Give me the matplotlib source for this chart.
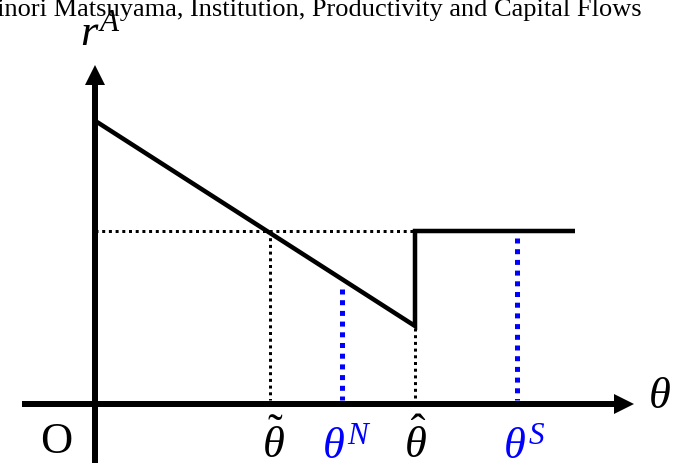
import matplotlib
matplotlib.use("Agg")
import matplotlib.pyplot as plt

plt.rcParams['font.family'] = 'Liberation Serif'
plt.rcParams['mathtext.fontset'] = 'custom'
plt.rcParams['mathtext.rm'] = 'Liberation Serif'
plt.rcParams['mathtext.it'] = 'Liberation Serif:italic'
plt.rcParams['lines.scale_dashes'] = False

# everything in picture pixels (x right, y down)
title = "Kiminori Matsuyama, Institution, Productivity and Capital Flows"

# r^A schedule: falling line, jump at theta-hat, then flat
curve_x = [97, 415, 415, 575]
curve_y = [122, 326, 231, 231]

r_level = 231          # height of the flat part / dotted guide
guide_end_x = 415

# vertical guides down to the theta axis
black_x = [270, 415]
black_top = [231, 328]
blue_x = [342, 517]
blue_top = [289, 238]
guide_bottom = 400

# label under each guide
tick_labels = [r'$\tilde{\theta}$', r'$\theta^N$', r'$\hat{\theta}$', r'$\theta^S$']
tick_x = [273, 347, 415, 524]
tick_colors = ['black', 'blue', 'black', 'blue']

# axes
origin = (95, 404)
y_axis_bottom = 463
y_axis_tip = 65
x_axis_left = 22
x_axis_tip = 634
head_len = 20
head_half = 10

fig = plt.figure(figsize=(6.85, 4.65), dpi=100)
ax = fig.add_axes([0, 0, 1, 1])
ax.set_xlim(0, 685)
ax.set_ylim(465, 0)
ax.axis('off')

px = 0.72  # points per pixel

# dotted guides
ax.plot([origin[0], guide_end_x], [r_level, r_level], color='black',
        lw=3 * px, dashes=(3 * px, 3.7 * px), dash_capstyle='butt')
for x, top in zip(black_x, black_top):
    ax.plot([x, x], [top, guide_bottom], color='black', lw=3 * px,
            dashes=(3 * px, 3.7 * px), dash_capstyle='butt')
for x, top in zip(blue_x, blue_top):
    ax.plot([x, x], [top, guide_bottom], color='blue', lw=5 * px,
            dashes=(5 * px, 5.7 * px), dash_capstyle='butt')

# the schedule
ax.plot(curve_x, curve_y, color='black', lw=4.5 * px, solid_joinstyle='miter',
        solid_capstyle='butt')

# axes with arrow heads
ax.plot([origin[0], origin[0]], [y_axis_bottom, y_axis_tip + head_len],
        color='black', lw=6 * px, solid_capstyle='butt')
ax.fill([origin[0] - head_half, origin[0] + head_half, origin[0]],
        [y_axis_tip + head_len, y_axis_tip + head_len, y_axis_tip],
        color='black', lw=0)
ax.plot([x_axis_left, x_axis_tip - head_len], [origin[1], origin[1]],
        color='black', lw=6 * px, solid_capstyle='butt')
ax.fill([x_axis_tip - head_len, x_axis_tip - head_len, x_axis_tip],
        [origin[1] - head_half, origin[1] + head_half, origin[1]],
        color='black', lw=0)

# texts
ax.text(642, 16, title, fontsize=19, ha='right', va='baseline')
ax.text(80, 45, r'$r^A$', fontsize=32, ha='left', va='baseline')
ax.text(648, 408, r'$\theta$', fontsize=32, ha='left', va='baseline')
ax.text(56, 453, 'O', fontsize=32, ha='center', va='baseline')
for lab, x, c in zip(tick_labels, tick_x, tick_colors):
    ax.text(x, 458, lab, fontsize=32, ha='center', va='baseline', color=c)

fig.savefig('out.png', dpi=100)
